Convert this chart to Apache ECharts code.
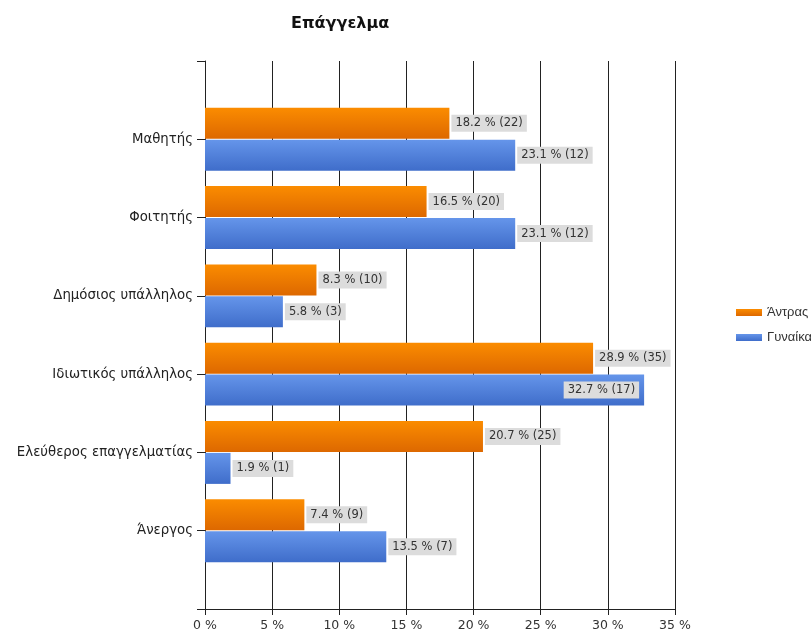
<!DOCTYPE html>
<html>
<head>
<meta charset="utf-8">
<script src="https://cdn.jsdelivr.net/npm/echarts@6/dist/echarts.min.js"></script>
<style>html,body{margin:0;padding:0;background:#fff;}#c{width:811px;height:635px;}</style>
</head>
<body>
<div id="c"></div>
<script>
var categories = ['Μαθητής', 'Φοιτητής', 'Δημόσιος υπάλληλος', 'Ιδιωτικός υπάλληλος', 'Ελεύθερος επαγγελματίας', 'Άνεργος'];
var menPct = [18.2, 16.5, 8.3, 28.9, 20.7, 7.4];
var menCount = [22, 20, 10, 35, 25, 9];
var womenPct = [23.1, 23.1, 5.8, 32.7, 1.9, 13.5];
var womenCount = [12, 12, 3, 17, 1, 7];
var xTicks = [0, 5, 10, 15, 20, 25, 30, 35];

var FONT = 'DejaVu Sans';
var yData = [''].concat(categories).concat(['']);

function grad(c1, c2) {
  return new echarts.graphic.LinearGradient(0, 0, 0, 1, [{offset: 0, color: c1}, {offset: 1, color: c2}]);
}
function mkData(pcts, counts) {
  var out = [null];
  pcts.forEach(function (v, i) {
    var item = {value: v, count: counts[i]};
    if (v > 31) item.label = {position: 'insideRight', distance: 5};
    out.push(item);
  });
  out.push(null);
  return out;
}
var labelBase = {
  show: true, position: 'right', distance: 2,
  backgroundColor: '#dcdcdc', padding: [3, 4, 2, 4],
  color: '#333', fontFamily: FONT, fontSize: 11.5,
  formatter: function (p) { return p.data.value.toFixed(1) + ' % (' + p.data.count + ')'; }
};

var chart = echarts.init(document.getElementById('c'), null, {renderer: 'canvas'});
chart.setOption({
  animation: false,
  title: {
    text: 'Επάγγελμα', left: 286, top: 11,
    textStyle: {fontFamily: FONT, fontSize: 16, fontWeight: 'bold', color: '#111'}
  },
  legend: {
    orient: 'vertical', left: 736, top: 306, padding: 0, itemWidth: 26, itemHeight: 7, itemGap: 12,
    icon: 'rect',
    textStyle: {fontFamily: 'Liberation Sans', fontSize: 13, color: '#333'},
    data: ['Άντρας', 'Γυναίκα']
  },
  grid: {left: 205, right: 136, top: 61, bottom: 26, containLabel: false},
  xAxis: {
    type: 'value', min: xTicks[0], max: xTicks[xTicks.length - 1], interval: 5,
    axisLine: {show: true, lineStyle: {color: '#222', width: 1}},
    axisTick: {show: true, length: 6, lineStyle: {color: '#222'}},
    axisLabel: {fontFamily: FONT, fontSize: 12.5, color: '#333', margin: 10, formatter: '{value} %'},
    splitLine: {show: true, lineStyle: {color: '#222', width: 1}}
  },
  yAxis: {
    type: 'category', data: yData, inverse: true, boundaryGap: false,
    axisLine: {show: true, lineStyle: {color: '#222', width: 1}},
    axisTick: {show: true, length: 8, lineStyle: {color: '#222'}},
    axisLabel: {fontFamily: FONT, fontSize: 13.3, color: '#222', margin: 12},
    splitLine: {show: false}
  },
  series: [
    {
      name: 'Άντρας', type: 'bar', barWidth: 31, barGap: '3%',
      itemStyle: {color: grad('#fb8c00', '#dd6800')},
      label: labelBase,
      data: mkData(menPct, menCount)
    },
    {
      name: 'Γυναίκα', type: 'bar', barWidth: 31, barGap: '3%',
      itemStyle: {color: grad('#6595ea', '#3f6dca')},
      label: labelBase,
      data: mkData(womenPct, womenCount)
    }
  ]
});
</script>
</body>
</html>
